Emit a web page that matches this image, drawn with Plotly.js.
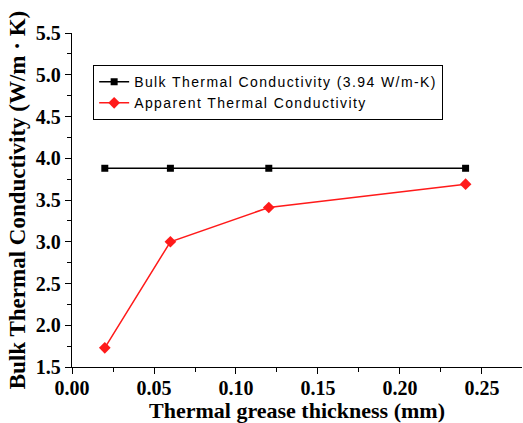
<!DOCTYPE html>
<html>
<head>
<meta charset="utf-8">
<script src="https://cdn.plot.ly/plotly-3.0.1.min.js"></script>
<style>html,body{margin:0;padding:0;background:#fff;}#chart{width:523px;height:423px;}
.legendtext{letter-spacing:1.4px;}</style>
</head>
<body>
<div id="chart"></div>
<script>
const thickness = [0.02, 0.06, 0.12, 0.24];
const bulkK = [3.88, 3.88, 3.88, 3.88];
const apparentK = [1.73, 3.00, 3.41, 3.69];
const seriesNames = ["Bulk Thermal Conductivity (3.94 W/m-K)", "Apparent Thermal Conductivity"];
const xTitle = "Thermal grease thickness (mm)";
const yTitle = "Bulk Thermal Conductivity (W/m · K)";

const traces = [
  {x: thickness, y: bulkK, name: seriesNames[0], mode: 'lines+markers',
   line: {color: '#000', width: 1.5}, marker: {symbol: 'square', size: 7, color: '#000'}},
  {x: thickness, y: apparentK, name: seriesNames[1], mode: 'lines+markers',
   line: {color: '#ff1a1a', width: 1.5}, marker: {symbol: 'diamond', size: 9, color: '#ff1a1a'}}
];
const serif = 'Liberation Serif, Times New Roman, serif';
const tickFont = {family: serif, size: 20, color: '#000', weight: 'bold'};
const titleFont = {family: serif, size: 22, color: '#000', weight: 'bold'};
const layout = {
  width: 523, height: 423,
  margin: {l: 72, r: 1, t: 33, b: 56},
  paper_bgcolor: '#fff', plot_bgcolor: '#fff',
  showlegend: true,
  legend: {x: 0.047, y: 0.904, xanchor: 'left', yanchor: 'top', bordercolor: '#000', borderwidth: 1,
    bgcolor: '#fff', font: {family: 'Liberation Sans, Arial, sans-serif', size: 14, color: '#000'},
    tracegroupgap: 0, itemwidth: 30},
  xaxis: {range: [0, 0.2744], dtick: 0.05, tick0: 0, tickformat: '.2f', showgrid: false, zeroline: false,
    showline: true, linecolor: '#000', linewidth: 1.2, ticks: 'outside', ticklen: 6, tickcolor: '#000',
    minor: {dtick: 0.025, ticks: 'outside', ticklen: 4, tickcolor: '#000', showgrid: false},
    tickfont: tickFont, automargin: false, ticklabelstandoff: -3,
    title: {text: xTitle, font: titleFont, standoff: 1}},
  yaxis: {range: [1.5, 5.5], dtick: 0.5, tick0: 1.5, tickformat: '.1f', showgrid: false, zeroline: false,
    showline: true, linecolor: '#000', linewidth: 1.2, ticks: 'outside', ticklen: 6, tickcolor: '#000',
    minor: {dtick: 0.25, ticks: 'outside', ticklen: 4, tickcolor: '#000', showgrid: false},
    tickfont: tickFont, automargin: false,
    title: {text: yTitle, font: {family: serif, size: 23, color: '#000', weight: 'bold'}, standoff: 3}}
};
Plotly.newPlot('chart', traces, layout, {displayModeBar: false, staticPlot: true});
</script>
</body>
</html>
